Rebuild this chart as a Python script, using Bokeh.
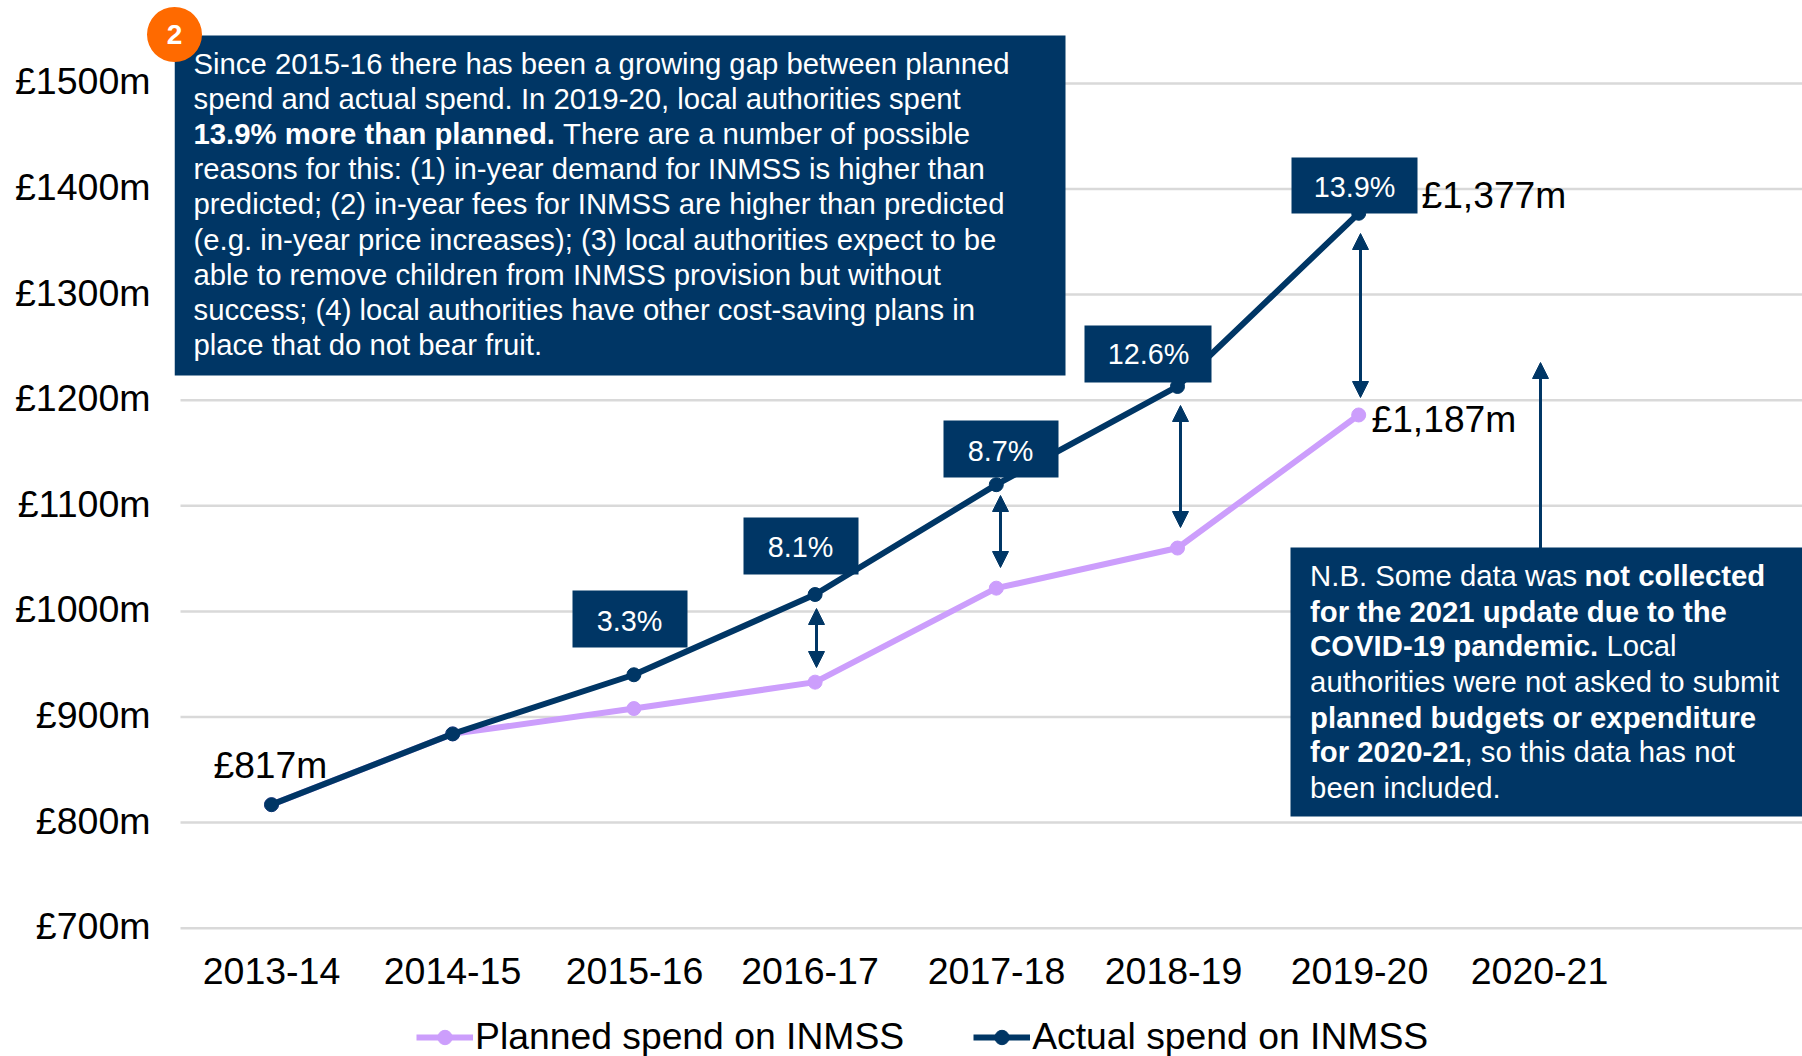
from bokeh.core.properties import value
from bokeh.embed import file_html
from bokeh.resources import INLINE
from bokeh.plotting import figure
from bokeh.models import (Arrow, BoxAnnotation, FixedTicker, Label, Legend, LegendItem,
                          LinearAxis, NormalHead, Range1d)

# ---------- data ----------
years = ["2013-14", "2014-15", "2015-16", "2016-17", "2017-18", "2018-19", "2019-20", "2020-21"]
planned = [817, 884, 908, 933, 1022, 1060, 1186]
actual = [817, 884, 940, 1016, 1120, 1213, 1377]
y_ticks = [700, 800, 900, 1000, 1100, 1200, 1300, 1400, 1500]
y_labels = ["£700m", "£800m", "£900m", "£1000m", "£1100m", "£1200m", "£1300m", "£1400m", "£1500m"]
gap_labels = ["3.3%", "8.1%", "8.7%", "12.6%", "13.9%"]

# ---------- page geometry (window pixels) ----------
W, H = 1802, 1056
F_L, F_R, F_T, F_B = 174, 1802, 0, 1056
GRID_L = 180
AXIS_PX = 932
X0, DX = 271.0, 181.2
Y0, DY = 927.7, 1.056
Y_LABEL_LIFT = 1.9  # the tick labels sit about 2px above their gridlines


def px(v):
    return (v - X0) / DX


def py(v):
    return 700 + (Y0 - v) / DY


NAVY = "#003665"
LAV = "#CC9EFC"
FONT = "Liberation Sans"
BIG = "37.5px"
BODY = 29.3

p = figure(width=W, height=H, output_backend="svg", toolbar_location=None,
           x_range=Range1d(px(F_L), px(F_R)), y_range=Range1d(py(F_B), py(F_T)),
           x_axis_location=None, min_border_left=F_L, min_border_right=0, min_border_top=0,
           min_border_bottom=0, outline_line_color=None)

p.xgrid.visible = False
p.ygrid.visible = False
p.segment(x0=[px(GRID_L)] * len(y_ticks), y0=y_ticks, x1=[px(F_R)] * len(y_ticks), y1=y_ticks,
          line_color="#D9D9D9", line_width=2.5)

x_label_px = [271, 452, 634, 809.5, 996, 1173, 1359, 1539]
x_ticks = [px(v) for v in x_label_px]
xaxis = LinearAxis(fixed_location=py(AXIS_PX))
p.add_layout(xaxis, "below")
for ax in (xaxis, p.yaxis[0]):
    ax.axis_line_color = None
    ax.major_tick_line_color = None
    ax.minor_tick_line_color = None
    ax.major_label_text_font = FONT
    ax.major_label_text_font_size = BIG
    ax.major_label_text_color = "#000000"
xaxis.ticker = FixedTicker(ticks=x_ticks)
xaxis.major_label_overrides = dict(zip(x_ticks, years))
xaxis.major_label_standoff = 19
y_tick_pos = [v + Y_LABEL_LIFT for v in y_ticks]
p.yaxis[0].ticker = FixedTicker(ticks=y_tick_pos)
p.yaxis[0].major_label_overrides = dict(zip(y_tick_pos, y_labels))
p.yaxis[0].major_label_standoff = 18

xs = list(range(len(planned)))
l1 = p.line(xs, planned, line_color=LAV, line_width=6)
m1 = p.scatter(xs, planned, size=14, fill_color=LAV, line_color=LAV)
l2 = p.line(xs, actual, line_color=NAVY, line_width=6)
m2 = p.scatter(xs, actual, size=14, fill_color=NAVY, line_color=NAVY)

legend = Legend(items=[LegendItem(label="Planned spend on INMSS", renderers=[l1, m1]),
                       LegendItem(label="Actual spend on INMSS", renderers=[l2, m2])],
                orientation="horizontal", location=(242, -2), glyph_width=57, glyph_height=36,
                label_standoff=2, spacing=69, padding=0, margin=0,
                background_fill_alpha=0, border_line_color=None,
                label_text_font=FONT, label_text_font_size="37.3px", label_text_color="#000000")
p.add_layout(legend, "center")


def box(l, r, t, b):
    p.add_layout(BoxAnnotation(left=px(l), right=px(r), top=py(t), bottom=py(b),
                               fill_color=NAVY, fill_alpha=1, line_color=None, level="annotation"))


def text(x, y, s, size=BODY, bold=False, color="white", align="left"):
    p.add_layout(Label(x=px(x), y=py(y), text=s, text_font=FONT, text_font_size=f"{size}px",
                       text_font_style="bold" if bold else "normal", text_color=color,
                       text_align=align, text_baseline="middle", level="annotation"))


def arrow(x, top, bottom, double=True, width=3):
    head = dict(size=16, fill_color=NAVY, line_color=NAVY, line_width=1)
    p.add_layout(Arrow(x_start=px(x), y_start=py(bottom), x_end=px(x), y_end=py(top),
                       line_color=NAVY, line_width=width,
                       end=NormalHead(**head),
                       start=NormalHead(**head) if double else None))


# arrows between the series
for x, top, bottom in [(816, 608, 667), (1000, 495, 567), (1180, 405, 527), (1360, 233, 397)]:
    arrow(x, top, bottom)
arrow(1540, 362, 550, double=False)

# gap boxes
for s, (l, r, t, b), cx, cy in zip(gap_labels,
                                   [(572, 687, 590, 647), (743, 858, 517, 574), (943, 1058, 420, 477),
                                    (1084, 1211, 325, 382), (1291, 1417, 157, 213)],
                                   [629, 800, 1000, 1148, 1354], [620, 546, 450, 353, 186]):
    box(l, r, t, b)
    text(cx, cy, s, size=28.8, align="center")

# value labels
text(1421, 194, "£1,377m", size=37.2, color="#000000")
text(1371, 418, "£1,187m", size=37.2, color="#000000")
text(213, 764, "£817m", size=37.2, color="#000000")

# left note
box(174, 1065, 35, 375)
LX = 193
note = ["Since 2015-16 there has been a growing gap between planned",
        "spend and actual spend. In 2019-20, local authorities spent",
        None,
        "reasons for this: (1) in-year demand for INMSS is higher than",
        "predicted; (2) in-year fees for INMSS are higher than predicted",
        "(e.g. in-year price increases); (3) local authorities expect to be",
        "able to remove children from INMSS provision but without",
        "success; (4) local authorities have other cost-saving plans in",
        "place that do not bear fruit."]
for i, s in enumerate(note):
    y = 63 + 35.1 * i
    if s is None:
        text(LX, y, "13.9% more than planned.", bold=True)
        text(562.5, y, "There are a number of possible")
    else:
        text(LX, y, s)

# right note
box(1290, 1802, 547, 816)
RX = 1309.6
text(RX, 575, "N.B. Some data was")
text(1584, 575, "not collected", bold=True)
text(RX, 611, "for the 2021 update due to the", bold=True)
text(RX, 645, "COVID-19 pandemic.", bold=True)
text(1606, 645, "Local")
text(RX, 681, "authorities were not asked to submit")
text(RX, 717, "planned budgets or expenditure", bold=True)
text(RX, 751, "for 2020-21", bold=True)
text(1464, 751, ", so this data has not")
text(RX, 787, "been included.")

# badge
p.scatter([px(174)], [py(34)], size=55, fill_color="#FF6A00", line_color=None, level="overlay")
p.text([px(174)], [py(34)], text=["2"], text_font=value(FONT), text_font_size="28px",
       text_font_style="bold", text_color="white", text_align="center",
       text_baseline="middle", level="overlay")

open("out.html", "w").write(file_html(p, INLINE))
